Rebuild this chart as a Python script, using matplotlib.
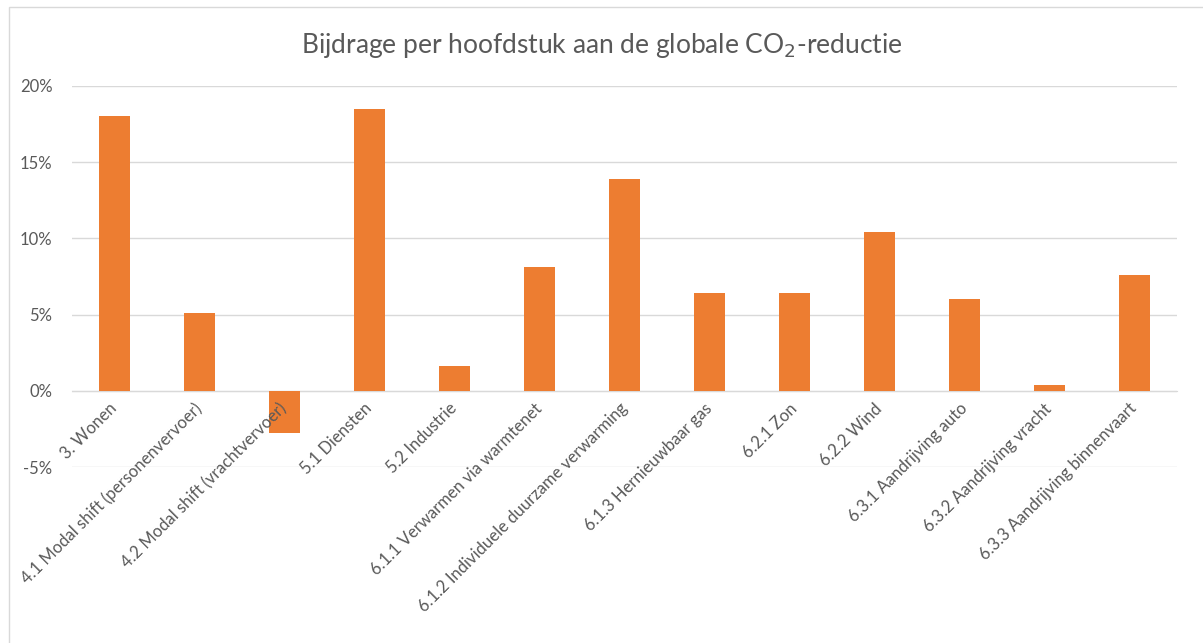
import matplotlib
matplotlib.use('Agg')
import matplotlib.pyplot as plt
from matplotlib.patches import Rectangle
from matplotlib.ticker import FuncFormatter

# Bijdrage per hoofdstuk (in %)
categories = [
    '3. Wonen',
    '4.1 Modal shift (personenvervoer)',
    '4.2 Modal shift (vrachtvervoer)',
    '5.1 Diensten',
    '5.2 Industrie',
    '6.1.1 Verwarmen via warmtenet',
    '6.1.2 Individuele duurzame verwarming',
    '6.1.3 Hernieuwbaar gas',
    '6.2.1 Zon',
    '6.2.2 Wind',
    '6.3.1 Aandrijving auto',
    '6.3.2 Aandrijving vracht',
    '6.3.3 Aandrijving binnenvaart',
]
values = [18.0, 5.1, -2.8, 18.5, 1.6, 8.1, 13.9, 6.4, 6.4, 10.45, 6.05, 0.35, 7.6]
yticks = [-5, 0, 5, 10, 15, 20]

ORANGE = '#ED7D31'
TEXT = '#595959'
GRID = '#D9D9D9'

plt.rcParams['font.family'] = ['Lato', 'DejaVu Sans']

fig = plt.figure(figsize=(12.03, 6.43), dpi=100)
W, H = 1203, 643
ax = fig.add_axes([72 / W, 1 - 467 / H, (1177 - 72) / W, (467 - 86) / H])

x = range(len(categories))
ax.bar(x, values, width=0.36, color=ORANGE, zorder=3)

ax.set_xlim(-0.5, len(categories) - 0.5)
ax.set_ylim(-5, 20)
ax.set_yticks(yticks)
ax.yaxis.set_major_formatter(FuncFormatter(lambda v, _: f'{v:.0f}%'))
ax.grid(axis='y', color=GRID, linewidth=1)

# gridlines behind the bars, category labels on top of them
ax.yaxis.set_zorder(1)
ax.xaxis.set_zorder(4)

for side in ['top', 'right', 'left']:
    ax.spines[side].set_visible(False)
ax.spines['bottom'].set_position(('data', 0))
ax.spines['bottom'].set_color(GRID)
ax.spines['bottom'].set_zorder(2)

ax.set_xticks(list(x))
ax.set_xticklabels(categories, rotation=45, ha='right', va='center',
                   rotation_mode='anchor', fontsize=12, color=TEXT)
ax.tick_params(axis='x', length=0, pad=11)
ax.tick_params(axis='y', length=0, labelsize=12, labelcolor=TEXT, pad=14)

fig.text(0.5, 1 - 45 / H, 'Bijdrage per hoofdstuk aan de globale CO$_2$-reductie',
         ha='center', va='center', fontsize=19, color=TEXT)

# chart border
fig.patches.append(Rectangle((9 / W, -0.1), 1.2, 1 - 7 / H + 0.1, transform=fig.transFigure,
                             fill=False, edgecolor=GRID, linewidth=1))

fig.savefig('out.png', dpi=100)
